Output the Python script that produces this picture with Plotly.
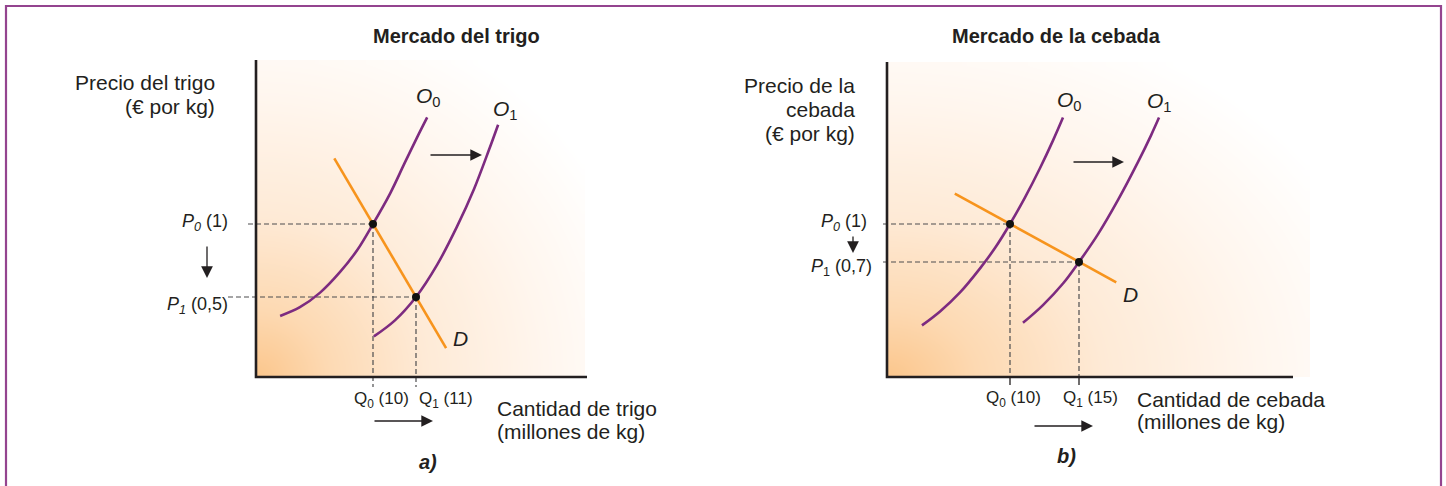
import numpy as np
import plotly.graph_objects as go

# ---------------- data ----------------
# Panel a) Mercado del trigo
trigo_eq_q = [10, 11]
trigo_eq_p = [1.0, 0.5]
trigo_O0_q = [7.84, 8.30, 8.77, 9.23, 9.63, 10.00, 10.40, 10.74, 11.02, 11.26]
trigo_O0_p = [0.37, 0.43, 0.53, 0.67, 0.82, 1.00, 1.21, 1.42, 1.59, 1.73]
trigo_O1_q = [10.02, 10.51, 11.00, 11.49, 11.95, 12.35, 12.70, 12.91]
trigo_O1_p = [0.23, 0.34, 0.50, 0.72, 0.98, 1.24, 1.51, 1.68]
trigo_D_q = [9.10, 11.70]
trigo_D_p = [1.45, 0.15]
trigo_q_labels = ["Q<sub>0</sub> (10)", "Q<sub>1</sub> (11)"]
trigo_p_labels = ["<i>P</i><sub><i>0</i></sub> (1)", "<i>P</i><sub><i>1</i></sub> (0,5)"]

# Panel b) Mercado de la cebada
cebada_eq_q = [10, 15]
cebada_eq_p = [1.0, 0.7]
cebada_O0_q = [3.62, 4.93, 6.38, 7.83, 8.91, 10.00, 11.09, 12.17, 13.12, 13.84]
cebada_O0_p = [0.20, 0.31, 0.46, 0.65, 0.81, 1.00, 1.21, 1.44, 1.66, 1.84]
cebada_O1_q = [10.94, 12.39, 13.84, 15.00, 16.38, 17.83, 19.28, 20.22, 20.80]
cebada_O1_p = [0.22, 0.36, 0.53, 0.70, 0.92, 1.19, 1.49, 1.70, 1.84]
cebada_D_q = [6.0, 17.7]
cebada_D_p = [1.24, 0.54]
cebada_q_labels = ["Q<sub>0</sub> (10)", "Q<sub>1</sub> (15)"]
cebada_p_labels = ["<i>P</i><sub><i>0</i></sub> (1)", "<i>P</i><sub>1</sub> (0,7)"]

# ---------------- style / layout constants ----------------
W, H = 1446, 486
FONT = "Liberation Sans, Arial, Helvetica, sans-serif"
INK = "#231F20"
PURPLE = "#7D2B80"
ORANGE = "#F7941D"
DASHC = "#4D4D4F"
BORDER = "#94448F"


def PX(x):
    return x / W


def PY(y):
    return 1 - y / H


def make_map(vals, pxs):
    a = (pxs[1] - pxs[0]) / (vals[1] - vals[0])
    return (lambda v: pxs[0] + (v - vals[0]) * a), (lambda p: vals[0] + (p - pxs[0]) / a)


panels = [
    dict(xa="x", ya="y", eq_q=trigo_eq_q, eq_p=trigo_eq_p,
         O0=(trigo_O0_q, trigo_O0_p), O1=(trigo_O1_q, trigo_O1_p), D=(trigo_D_q, trigo_D_p),
         q_px=(373, 416), p_py=(224, 297), box=(256, 587, 60, 377), grad_right=585,
         dom=(215, 600, 50, 395), dash_start=(248, 228), dash_bottom=387, tick_bottom=None),
    dict(xa="x2", ya="y2", eq_q=cebada_eq_q, eq_p=cebada_eq_p,
         O0=(cebada_O0_q, cebada_O0_p), O1=(cebada_O1_q, cebada_O1_p), D=(cebada_D_q, cebada_D_p),
         q_px=(1010, 1079), p_py=(224, 262), box=(887, 1293, 62, 377), grad_right=1310,
         dom=(870, 1320, 50, 395), dash_start=(883, 883), dash_bottom=377, tick_bottom=385),
]

fig = go.Figure()
layout_axes = {}
grad_cs = [[0.0, "#FBC68C"], [0.15, "#FDD9B2"], [0.36, "#FEEAD6"],
           [0.62, "#FFF6EE"], [0.85, "#FFFFFF"], [1.0, "#FFFFFF"]]

for i, pn in enumerate(panels):
    _, px2q = make_map(pn["eq_q"], pn["q_px"])
    _, py2p = make_map(pn["eq_p"], pn["p_py"])
    x0px, x1px, ytop, ybot = pn["box"]
    q0, qend = px2q(x0px), px2q(x1px)
    p0, ptop = py2p(ybot), py2p(ytop)

    # background gradient (style only)
    n = 48
    xe = np.linspace(q0, px2q(pn["grad_right"]), n + 1)
    ye = np.linspace(p0, ptop, n + 1)
    u = (np.arange(n) + 0.5) / n
    U, V = np.meshgrid(u, u)
    R = np.sqrt(U ** 2 + V ** 2)
    fig.add_trace(go.Heatmap(x=xe, y=ye, z=R, zmin=0, zmax=1.42, colorscale=grad_cs,
                             zsmooth="best", showscale=False, hoverinfo="skip",
                             xaxis=pn["xa"], yaxis=pn["ya"]))

    # dashed guide lines
    dx, dy = [], []
    for k, (q, p) in enumerate(zip(pn["eq_q"], pn["eq_p"])):
        dx += [px2q(pn["dash_start"][k]), q, None, q, q, None]
        dy += [p, p, None, p, py2p(pn["dash_bottom"]), None]
    fig.add_trace(go.Scatter(x=dx, y=dy, mode="lines", hoverinfo="skip",
                             line=dict(color=DASHC, width=1.2, dash="5px,3px"),
                             xaxis=pn["xa"], yaxis=pn["ya"]))
    if pn["tick_bottom"]:
        tx, ty = [], []
        for q in pn["eq_q"]:
            tx += [q, q, None]
            ty += [p0, py2p(pn["tick_bottom"]), None]
        fig.add_trace(go.Scatter(x=tx, y=ty, mode="lines", hoverinfo="skip",
                                 line=dict(color=INK, width=1.3),
                                 xaxis=pn["xa"], yaxis=pn["ya"]))

    # supply curves
    for key in ("O0", "O1"):
        cq, cp = pn[key]
        fig.add_trace(go.Scatter(x=cq, y=cp, mode="lines", hoverinfo="skip",
                                 line=dict(color=PURPLE, width=2.6, shape="spline", smoothing=1.0),
                                 xaxis=pn["xa"], yaxis=pn["ya"]))
    # demand
    fig.add_trace(go.Scatter(x=pn["D"][0], y=pn["D"][1], mode="lines", hoverinfo="skip",
                             line=dict(color=ORANGE, width=2.6),
                             xaxis=pn["xa"], yaxis=pn["ya"]))
    # axes
    fig.add_trace(go.Scatter(x=[q0, q0, qend], y=[ptop, p0, p0], mode="lines", hoverinfo="skip",
                             line=dict(color=INK, width=2.6),
                             xaxis=pn["xa"], yaxis=pn["ya"]))
    # equilibrium points
    fig.add_trace(go.Scatter(x=pn["eq_q"], y=pn["eq_p"], mode="markers", hoverinfo="skip",
                             marker=dict(color="#111111", size=8),
                             xaxis=pn["xa"], yaxis=pn["ya"]))

    dx0, dx1, dy0, dy1 = pn["dom"]
    sfx = "" if i == 0 else str(i + 1)
    layout_axes["xaxis" + sfx] = dict(domain=[PX(dx0), PX(dx1)], range=[px2q(dx0), px2q(dx1)],
                                      visible=False, fixedrange=True,
                                      anchor="y" + sfx)
    layout_axes["yaxis" + sfx] = dict(domain=[PY(dy1), PY(dy0)], range=[py2p(dy1), py2p(dy0)],
                                      visible=False, fixedrange=True,
                                      anchor="x" + sfx)

annotations = []


def txt(text, x, y, size=21, xanchor="center"):
    annotations.append(dict(text=text, x=PX(x), y=PY(y), xref="paper", yref="paper",
                            xanchor=xanchor, yanchor="middle", align=xanchor if xanchor != "center" else "center",
                            showarrow=False, borderpad=0,
                            font=dict(family=FONT, size=size, color=INK)))


def lines(texts, x, ys, size=21, xanchor="left"):
    for t, y in zip(texts, ys):
        txt(t, x, y, size, xanchor)


def arrow(x_head, y_head, ax, ay):
    annotations.append(dict(text="", x=PX(x_head), y=PY(y_head), xref="paper", yref="paper",
                            ax=ax, ay=ay, showarrow=True, arrowhead=2, arrowsize=1.8,
                            arrowwidth=1.3, arrowcolor=INK, standoff=0, startstandoff=0))


# Panel a) texts
txt("<b>Mercado del trigo</b>", 456, 36, 20)
lines(["Precio del trigo", "(€ por kg)"], 216, [83, 107], 21, "right")
txt(trigo_p_labels[0], 229, 223, 18, "right")
txt(trigo_p_labels[1], 229, 305, 18, "right")
txt("<i>O</i><sub>0</sub>", 428, 97, 21)
txt("<i>O</i><sub>1</sub>", 505, 110, 21)
txt("<i>D</i>", 461, 338, 21)
txt(trigo_q_labels[0], 381, 400, 17)
txt(trigo_q_labels[1], 446, 400, 17)
lines(["Cantidad de trigo", "(millones de kg)"], 496, [408, 431], 21, "left")
txt("<b><i>a)</i></b>", 428, 462, 20)
arrow(207, 278, 0, -33)
arrow(482, 155, -53, 0)
arrow(433, 421, -60, 0)

# Panel b) texts
txt("<b>Mercado de la cebada</b>", 1056, 36, 20)
lines(["Precio de la", "cebada", "(€ por kg)"], 856, [85, 109, 133], 21, "right")
txt(cebada_p_labels[0], 868, 222, 18, "right")
txt(cebada_p_labels[1], 873, 267, 18, "right")
txt("<i>O</i><sub>0</sub>", 1069, 101, 21)
txt("<i>O</i><sub>1</sub>", 1159, 102, 21)
txt("<i>D</i>", 1130, 294, 21)
txt(cebada_q_labels[0], 1014, 399, 17)
txt(cebada_q_labels[1], 1090, 399, 17)
lines(["Cantidad de cebada", "(millones de kg)"], 1136, [399, 421], 21, "left")
txt("<b><i>b)</i></b>", 1066, 456, 20)
arrow(853, 253, 0, -18)
arrow(1124, 162, -52, 0)
arrow(1093, 426, -60, 0)

fig.update_layout(
    width=W, height=H, autosize=False,
    margin=dict(l=0, r=0, t=0, b=0, pad=0),
    paper_bgcolor="white", plot_bgcolor="rgba(0,0,0,0)",
    showlegend=False,
    annotations=annotations,
    shapes=[dict(type="rect", xref="paper", yref="paper",
                 x0=PX(6), x1=PX(1441), y0=-0.1, y1=PY(6),
                 line=dict(color=BORDER, width=2.2), fillcolor="rgba(0,0,0,0)")],
    font=dict(family=FONT, color=INK),
    **layout_axes,
)

fig.write_html("out.html", config={"displayModeBar": False},
               post_script="document.body.style.margin='0px';document.body.style.overflow='hidden';")
